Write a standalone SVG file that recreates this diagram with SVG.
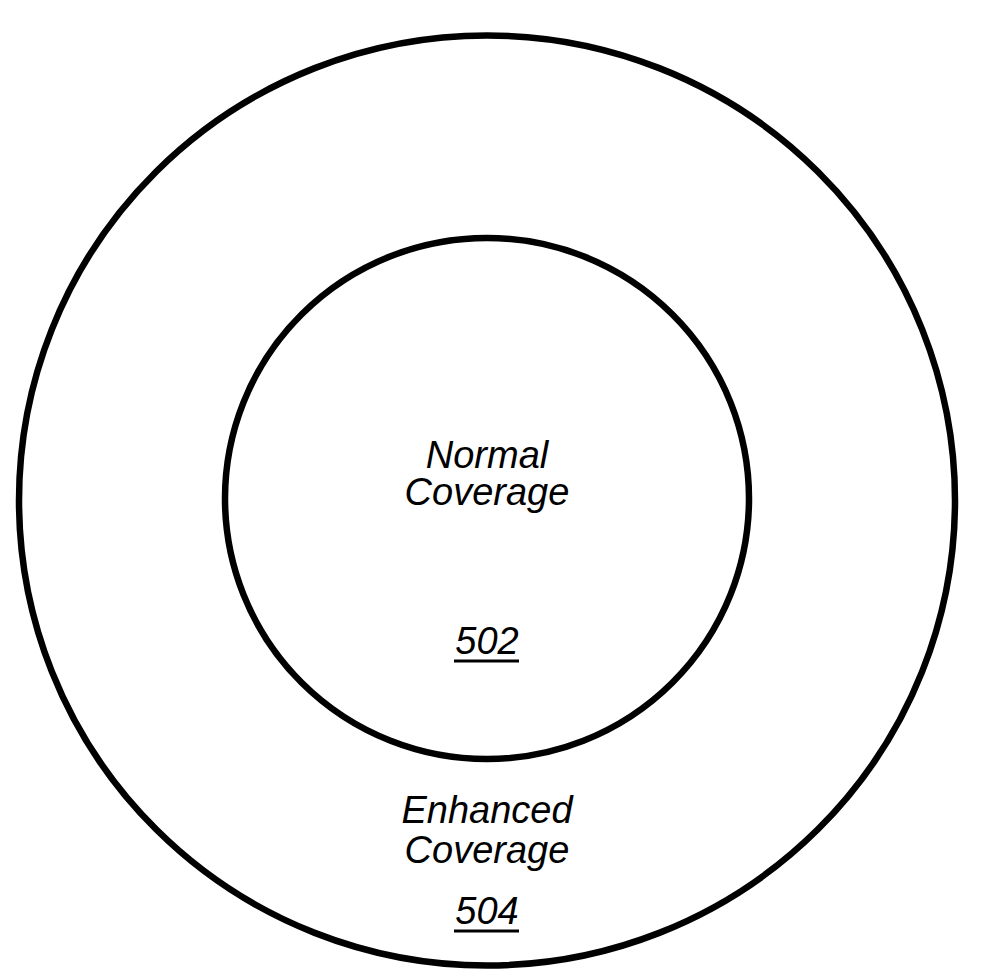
<svg xmlns="http://www.w3.org/2000/svg" width="1000" height="980" viewBox="0 0 1000 980">
<style>
.ring{fill:none;stroke:#000;stroke-width:6.5}
.lbl{font-family:"Liberation Sans",Arial,sans-serif;font-style:italic;font-size:38px;fill:#000;text-anchor:middle}
.ul{stroke:#000;stroke-width:3}
</style>
<rect width="1000" height="980" fill="#fff"/>
<g id="enhanced-coverage">
<ellipse class="ring" cx="487" cy="500.5" rx="468" ry="465"/>
<text class="lbl" x="487" y="823">Enhanced</text>
<text class="lbl" x="487" y="863">Coverage</text>
<text class="lbl" x="487" y="924">504</text>
<line class="ul" x1="454" y1="931" x2="519" y2="931"/>
</g>
<g id="normal-coverage">
<ellipse class="ring" cx="487" cy="498.5" rx="262" ry="260.5"/>
<text class="lbl" x="487" y="468">Normal</text>
<text class="lbl" x="487" y="505">Coverage</text>
<text class="lbl" x="487" y="654">502</text>
<line class="ul" x1="454" y1="661" x2="519" y2="661"/>
</g>
<g id="connectors"/>
</svg>
